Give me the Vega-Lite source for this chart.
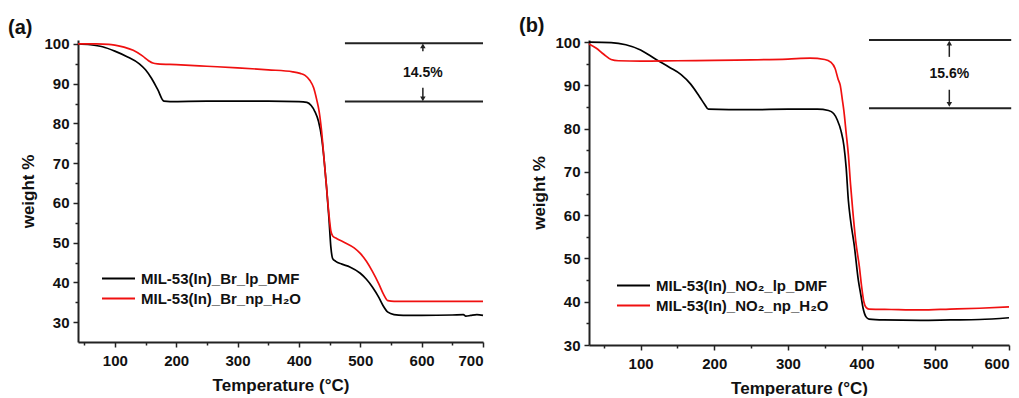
{
  "$schema": "https://vega.github.io/schema/vega-lite/v6.json",
  "background": "white",
  "padding": {"left": 7, "top": 16, "right": 5, "bottom": 0},
  "spacing": 31,
  "config": {
    "view": {"stroke": null},
    "font": "Liberation Sans",
    "axis": {
      "grid": false,
      "domainColor": "#222",
      "domainWidth": 2,
      "tickColor": "#222",
      "tickWidth": 1.5,
      "labelFont": "Liberation Sans",
      "labelFontSize": 15,
      "labelFontWeight": "bold",
      "labelColor": "#111",
      "labelPadding": 4,
      "titleFont": "Liberation Sans",
      "titleFontSize": 17,
      "titleFontWeight": "bold",
      "titleColor": "#111",
      "labelOverlap": false
    },
    "axisX": {"labelPadding": 6},
    "legend": {
      "labelFont": "Liberation Sans",
      "labelFontSize": 15,
      "labelFontWeight": "bold",
      "labelColor": "#111",
      "labelLimit": 0
    }
  },
  "datasets": {
    "a": [
      {"series": "MIL-53(In)_Br_lp_DMF", "T": 40, "w": 100},
      {"series": "MIL-53(In)_Br_lp_DMF", "T": 60, "w": 99.8},
      {"series": "MIL-53(In)_Br_lp_DMF", "T": 80, "w": 99.3},
      {"series": "MIL-53(In)_Br_lp_DMF", "T": 100, "w": 98.2},
      {"series": "MIL-53(In)_Br_lp_DMF", "T": 120, "w": 96.8},
      {"series": "MIL-53(In)_Br_lp_DMF", "T": 140, "w": 95},
      {"series": "MIL-53(In)_Br_lp_DMF", "T": 150, "w": 93.5},
      {"series": "MIL-53(In)_Br_lp_DMF", "T": 160, "w": 91.3},
      {"series": "MIL-53(In)_Br_lp_DMF", "T": 170, "w": 88.5},
      {"series": "MIL-53(In)_Br_lp_DMF", "T": 180, "w": 85.6},
      {"series": "MIL-53(In)_Br_lp_DMF", "T": 190, "w": 85.5},
      {"series": "MIL-53(In)_Br_lp_DMF", "T": 250, "w": 85.6},
      {"series": "MIL-53(In)_Br_lp_DMF", "T": 300, "w": 85.6},
      {"series": "MIL-53(In)_Br_lp_DMF", "T": 350, "w": 85.6},
      {"series": "MIL-53(In)_Br_lp_DMF", "T": 400, "w": 85.5},
      {"series": "MIL-53(In)_Br_lp_DMF", "T": 413, "w": 85.3},
      {"series": "MIL-53(In)_Br_lp_DMF", "T": 420, "w": 84.5},
      {"series": "MIL-53(In)_Br_lp_DMF", "T": 426, "w": 83},
      {"series": "MIL-53(In)_Br_lp_DMF", "T": 432, "w": 80.5},
      {"series": "MIL-53(In)_Br_lp_DMF", "T": 437, "w": 76.5},
      {"series": "MIL-53(In)_Br_lp_DMF", "T": 441, "w": 71},
      {"series": "MIL-53(In)_Br_lp_DMF", "T": 445, "w": 64},
      {"series": "MIL-53(In)_Br_lp_DMF", "T": 449, "w": 56},
      {"series": "MIL-53(In)_Br_lp_DMF", "T": 452, "w": 49},
      {"series": "MIL-53(In)_Br_lp_DMF", "T": 455, "w": 46},
      {"series": "MIL-53(In)_Br_lp_DMF", "T": 460, "w": 45.3},
      {"series": "MIL-53(In)_Br_lp_DMF", "T": 470, "w": 44.6},
      {"series": "MIL-53(In)_Br_lp_DMF", "T": 483, "w": 43.9},
      {"series": "MIL-53(In)_Br_lp_DMF", "T": 500, "w": 42.3},
      {"series": "MIL-53(In)_Br_lp_DMF", "T": 510, "w": 40.8},
      {"series": "MIL-53(In)_Br_lp_DMF", "T": 520, "w": 38.8},
      {"series": "MIL-53(In)_Br_lp_DMF", "T": 530, "w": 36.3},
      {"series": "MIL-53(In)_Br_lp_DMF", "T": 537, "w": 34.2},
      {"series": "MIL-53(In)_Br_lp_DMF", "T": 545, "w": 32.5},
      {"series": "MIL-53(In)_Br_lp_DMF", "T": 555, "w": 31.9},
      {"series": "MIL-53(In)_Br_lp_DMF", "T": 570, "w": 31.7},
      {"series": "MIL-53(In)_Br_lp_DMF", "T": 600, "w": 31.7},
      {"series": "MIL-53(In)_Br_lp_DMF", "T": 650, "w": 31.8},
      {"series": "MIL-53(In)_Br_lp_DMF", "T": 668, "w": 31.9},
      {"series": "MIL-53(In)_Br_lp_DMF", "T": 672, "w": 31.5},
      {"series": "MIL-53(In)_Br_lp_DMF", "T": 680, "w": 31.7},
      {"series": "MIL-53(In)_Br_lp_DMF", "T": 690, "w": 31.9},
      {"series": "MIL-53(In)_Br_lp_DMF", "T": 700, "w": 31.7},
      {"series": "MIL-53(In)_Br_np_H₂O", "T": 40, "w": 100},
      {"series": "MIL-53(In)_Br_np_H₂O", "T": 70, "w": 100},
      {"series": "MIL-53(In)_Br_np_H₂O", "T": 90, "w": 99.9},
      {"series": "MIL-53(In)_Br_np_H₂O", "T": 100, "w": 99.7},
      {"series": "MIL-53(In)_Br_np_H₂O", "T": 115, "w": 99.2},
      {"series": "MIL-53(In)_Br_np_H₂O", "T": 130, "w": 98.4},
      {"series": "MIL-53(In)_Br_np_H₂O", "T": 145, "w": 97},
      {"series": "MIL-53(In)_Br_np_H₂O", "T": 155, "w": 95.8},
      {"series": "MIL-53(In)_Br_np_H₂O", "T": 162, "w": 95.2},
      {"series": "MIL-53(In)_Br_np_H₂O", "T": 170, "w": 95},
      {"series": "MIL-53(In)_Br_np_H₂O", "T": 200, "w": 94.8},
      {"series": "MIL-53(In)_Br_np_H₂O", "T": 250, "w": 94.4},
      {"series": "MIL-53(In)_Br_np_H₂O", "T": 300, "w": 94},
      {"series": "MIL-53(In)_Br_np_H₂O", "T": 350, "w": 93.5},
      {"series": "MIL-53(In)_Br_np_H₂O", "T": 390, "w": 93},
      {"series": "MIL-53(In)_Br_np_H₂O", "T": 402, "w": 92.6},
      {"series": "MIL-53(In)_Br_np_H₂O", "T": 410, "w": 92.1},
      {"series": "MIL-53(In)_Br_np_H₂O", "T": 418, "w": 90.8},
      {"series": "MIL-53(In)_Br_np_H₂O", "T": 424, "w": 89},
      {"series": "MIL-53(In)_Br_np_H₂O", "T": 429, "w": 86},
      {"series": "MIL-53(In)_Br_np_H₂O", "T": 433, "w": 83},
      {"series": "MIL-53(In)_Br_np_H₂O", "T": 437, "w": 78},
      {"series": "MIL-53(In)_Br_np_H₂O", "T": 441, "w": 71},
      {"series": "MIL-53(In)_Br_np_H₂O", "T": 445, "w": 64},
      {"series": "MIL-53(In)_Br_np_H₂O", "T": 449, "w": 57},
      {"series": "MIL-53(In)_Br_np_H₂O", "T": 452, "w": 53},
      {"series": "MIL-53(In)_Br_np_H₂O", "T": 455, "w": 51.7},
      {"series": "MIL-53(In)_Br_np_H₂O", "T": 462, "w": 51},
      {"series": "MIL-53(In)_Br_np_H₂O", "T": 475, "w": 50},
      {"series": "MIL-53(In)_Br_np_H₂O", "T": 490, "w": 48.7},
      {"series": "MIL-53(In)_Br_np_H₂O", "T": 500, "w": 47.3},
      {"series": "MIL-53(In)_Br_np_H₂O", "T": 510, "w": 45.3},
      {"series": "MIL-53(In)_Br_np_H₂O", "T": 520, "w": 42.7},
      {"series": "MIL-53(In)_Br_np_H₂O", "T": 530, "w": 39.7},
      {"series": "MIL-53(In)_Br_np_H₂O", "T": 538, "w": 37},
      {"series": "MIL-53(In)_Br_np_H₂O", "T": 545, "w": 35.4},
      {"series": "MIL-53(In)_Br_np_H₂O", "T": 555, "w": 35.2},
      {"series": "MIL-53(In)_Br_np_H₂O", "T": 700, "w": 35.2}
    ],
    "b": [
      {"series": "MIL-53(In)_NO₂_lp_DMF", "T": 30, "w": 100},
      {"series": "MIL-53(In)_NO₂_lp_DMF", "T": 60, "w": 99.9},
      {"series": "MIL-53(In)_NO₂_lp_DMF", "T": 80, "w": 99.4},
      {"series": "MIL-53(In)_NO₂_lp_DMF", "T": 100, "w": 98.2},
      {"series": "MIL-53(In)_NO₂_lp_DMF", "T": 120, "w": 96.1},
      {"series": "MIL-53(In)_NO₂_lp_DMF", "T": 140, "w": 94.1},
      {"series": "MIL-53(In)_NO₂_lp_DMF", "T": 155, "w": 92.5},
      {"series": "MIL-53(In)_NO₂_lp_DMF", "T": 168, "w": 90.3},
      {"series": "MIL-53(In)_NO₂_lp_DMF", "T": 180, "w": 87.4},
      {"series": "MIL-53(In)_NO₂_lp_DMF", "T": 187, "w": 85.6},
      {"series": "MIL-53(In)_NO₂_lp_DMF", "T": 192, "w": 84.5},
      {"series": "MIL-53(In)_NO₂_lp_DMF", "T": 220, "w": 84.4},
      {"series": "MIL-53(In)_NO₂_lp_DMF", "T": 250, "w": 84.4},
      {"series": "MIL-53(In)_NO₂_lp_DMF", "T": 300, "w": 84.5},
      {"series": "MIL-53(In)_NO₂_lp_DMF", "T": 340, "w": 84.5},
      {"series": "MIL-53(In)_NO₂_lp_DMF", "T": 355, "w": 84.2},
      {"series": "MIL-53(In)_NO₂_lp_DMF", "T": 362, "w": 83.5},
      {"series": "MIL-53(In)_NO₂_lp_DMF", "T": 367, "w": 82},
      {"series": "MIL-53(In)_NO₂_lp_DMF", "T": 372, "w": 79.5},
      {"series": "MIL-53(In)_NO₂_lp_DMF", "T": 376, "w": 76},
      {"series": "MIL-53(In)_NO₂_lp_DMF", "T": 379, "w": 71},
      {"series": "MIL-53(In)_NO₂_lp_DMF", "T": 382, "w": 63.4},
      {"series": "MIL-53(In)_NO₂_lp_DMF", "T": 385, "w": 58.8},
      {"series": "MIL-53(In)_NO₂_lp_DMF", "T": 390, "w": 53},
      {"series": "MIL-53(In)_NO₂_lp_DMF", "T": 395.5, "w": 45},
      {"series": "MIL-53(In)_NO₂_lp_DMF", "T": 399, "w": 41.5},
      {"series": "MIL-53(In)_NO₂_lp_DMF", "T": 402, "w": 38.5},
      {"series": "MIL-53(In)_NO₂_lp_DMF", "T": 406, "w": 36.5},
      {"series": "MIL-53(In)_NO₂_lp_DMF", "T": 410, "w": 36},
      {"series": "MIL-53(In)_NO₂_lp_DMF", "T": 430, "w": 35.8},
      {"series": "MIL-53(In)_NO₂_lp_DMF", "T": 480, "w": 35.7},
      {"series": "MIL-53(In)_NO₂_lp_DMF", "T": 520, "w": 35.8},
      {"series": "MIL-53(In)_NO₂_lp_DMF", "T": 560, "w": 35.9},
      {"series": "MIL-53(In)_NO₂_lp_DMF", "T": 600, "w": 36.3},
      {"series": "MIL-53(In)_NO₂_np_H₂O", "T": 30, "w": 99.6},
      {"series": "MIL-53(In)_NO₂_np_H₂O", "T": 40, "w": 98.6},
      {"series": "MIL-53(In)_NO₂_np_H₂O", "T": 50, "w": 97.2},
      {"series": "MIL-53(In)_NO₂_np_H₂O", "T": 60, "w": 96},
      {"series": "MIL-53(In)_NO₂_np_H₂O", "T": 70, "w": 95.7},
      {"series": "MIL-53(In)_NO₂_np_H₂O", "T": 100, "w": 95.6},
      {"series": "MIL-53(In)_NO₂_np_H₂O", "T": 150, "w": 95.7},
      {"series": "MIL-53(In)_NO₂_np_H₂O", "T": 200, "w": 95.8},
      {"series": "MIL-53(In)_NO₂_np_H₂O", "T": 250, "w": 95.9},
      {"series": "MIL-53(In)_NO₂_np_H₂O", "T": 300, "w": 96.1},
      {"series": "MIL-53(In)_NO₂_np_H₂O", "T": 330, "w": 96.3},
      {"series": "MIL-53(In)_NO₂_np_H₂O", "T": 350, "w": 96},
      {"series": "MIL-53(In)_NO₂_np_H₂O", "T": 358, "w": 95.4},
      {"series": "MIL-53(In)_NO₂_np_H₂O", "T": 364, "w": 93.9},
      {"series": "MIL-53(In)_NO₂_np_H₂O", "T": 368, "w": 91.5},
      {"series": "MIL-53(In)_NO₂_np_H₂O", "T": 371, "w": 90},
      {"series": "MIL-53(In)_NO₂_np_H₂O", "T": 374, "w": 86.5},
      {"series": "MIL-53(In)_NO₂_np_H₂O", "T": 376, "w": 84},
      {"series": "MIL-53(In)_NO₂_np_H₂O", "T": 379, "w": 79},
      {"series": "MIL-53(In)_NO₂_np_H₂O", "T": 382, "w": 74},
      {"series": "MIL-53(In)_NO₂_np_H₂O", "T": 385, "w": 67},
      {"series": "MIL-53(In)_NO₂_np_H₂O", "T": 388, "w": 61},
      {"series": "MIL-53(In)_NO₂_np_H₂O", "T": 392, "w": 54},
      {"series": "MIL-53(In)_NO₂_np_H₂O", "T": 397, "w": 48},
      {"series": "MIL-53(In)_NO₂_np_H₂O", "T": 400, "w": 43.5},
      {"series": "MIL-53(In)_NO₂_np_H₂O", "T": 403, "w": 40},
      {"series": "MIL-53(In)_NO₂_np_H₂O", "T": 406, "w": 38.7},
      {"series": "MIL-53(In)_NO₂_np_H₂O", "T": 410, "w": 38.3},
      {"series": "MIL-53(In)_NO₂_np_H₂O", "T": 440, "w": 38.2},
      {"series": "MIL-53(In)_NO₂_np_H₂O", "T": 480, "w": 38.1},
      {"series": "MIL-53(In)_NO₂_np_H₂O", "T": 520, "w": 38.3},
      {"series": "MIL-53(In)_NO₂_np_H₂O", "T": 560, "w": 38.5},
      {"series": "MIL-53(In)_NO₂_np_H₂O", "T": 600, "w": 38.8}
    ]
  },
  "hconcat": [
    {
      "width": 405,
      "height": 302,
      "title": {"text": "(a)", "anchor": "start", "fontSize": 20, "fontWeight": "bold", "font": "Liberation Sans", "color": "#111", "dx": -12, "offset": -1},
      "encoding": {
        "x": {"field": "T", "type": "quantitative", "scale": {"domain": [40, 700], "nice": false, "zero": false},
          "axis": {"title": "Temperature (°C)", "titlePadding": 9, "values": [50,100,150,200,250,300,350,400,450,500,550,600,650,700],
            "labelExpr": "datum.value % 100 === 0 ? datum.label : ''",
            "tickSize": {"condition": {"test": "datum.value % 100 === 0", "value": 5}, "value": 3}}},
        "y": {"field": "w", "type": "quantitative", "scale": {"domain": [25, 101], "nice": false, "zero": false},
          "axis": {"title": "weight %", "titlePadding": 6, "values": [30,35,40,45,50,55,60,65,70,75,80,85,90,95,100],
            "labelExpr": "datum.value % 10 === 0 ? datum.label : ''",
            "tickSize": {"condition": {"test": "datum.value % 10 === 0", "value": 5}, "value": 3}}}
      },
      "layer": [
        {
          "data": {"name": "a"},
          "mark": {"type": "line", "strokeWidth": 1.7, "interpolate": "monotone"},
          "encoding": {
            "color": {"field": "series", "type": "nominal",
              "scale": {"domain": ["MIL-53(In)_Br_lp_DMF", "MIL-53(In)_Br_np_H₂O"], "range": ["#000000", "#f01010"]},
              "legend": {"orient": "none", "legendX": 33, "legendY": 231, "title": null, "symbolType": "M-3,0H3", "symbolSize": 121, "symbolStrokeWidth": 2, "rowPadding": 4, "labelOffset": 15}}
          }
        },
        {
          "data": {"values": [{"T": 475, "T2": 700, "w": 100.2}, {"T": 475, "T2": 700, "w": 85.5}]},
          "mark": {"type": "rule", "strokeWidth": 2, "color": "#222"},
          "encoding": {"x2": {"field": "T2"}}
        },
        {
          "data": {"values": [{"T": 602, "w": 98.2, "w2": 99.5}, {"T": 602, "w": 89, "w2": 86.2}]},
          "mark": {"type": "rule", "strokeWidth": 1.5, "color": "#222"},
          "encoding": {"y2": {"field": "w2"}}
        },
        {
          "data": {"values": [{"T": 602, "w": 99.5, "dir": "up"}, {"T": 602, "w": 86.2, "dir": "down"}]},
          "mark": {"type": "point", "filled": true, "size": 30, "color": "#222", "opacity": 1},
          "encoding": {"shape": {"field": "dir", "type": "nominal", "scale": {"domain": ["up", "down"], "range": ["triangle-up", "triangle-down"]}, "legend": null}}
        },
        {
          "data": {"values": [{"T": 602, "w": 92.7, "label": "14.5%"}]},
          "mark": {"type": "text", "fontSize": 14, "fontWeight": "bold", "font": "Liberation Sans", "color": "#111"},
          "encoding": {"text": {"field": "label"}}
        }
      ],
      "resolve": {"scale": {"color": "independent", "shape": "independent"}}
    },
    {
      "width": 420,
      "height": 305,
      "title": {"text": "(b)", "anchor": "start", "fontSize": 20, "fontWeight": "bold", "font": "Liberation Sans", "color": "#111", "dx": -12, "offset": -1},
      "encoding": {
        "x": {"field": "T", "type": "quantitative", "scale": {"domain": [30, 600], "nice": false, "zero": false},
          "axis": {"title": "Temperature (°C)", "titlePadding": 9, "values": [50,100,150,200,250,300,350,400,450,500,550,600],
            "labelExpr": "datum.value % 100 === 0 ? datum.label : ''",
            "tickSize": {"condition": {"test": "datum.value % 100 === 0", "value": 5}, "value": 3}}},
        "y": {"field": "w", "type": "quantitative", "scale": {"domain": [30, 100.5], "nice": false, "zero": false},
          "axis": {"title": "weight %", "titlePadding": 6, "values": [30,35,40,45,50,55,60,65,70,75,80,85,90,95,100],
            "labelExpr": "datum.value % 10 === 0 ? datum.label : ''",
            "tickSize": {"condition": {"test": "datum.value % 10 === 0", "value": 5}, "value": 3}}}
      },
      "layer": [
        {
          "data": {"name": "b"},
          "mark": {"type": "line", "strokeWidth": 1.7, "interpolate": "monotone"},
          "encoding": {
            "color": {"field": "series", "type": "nominal",
              "scale": {"domain": ["MIL-53(In)_NO₂_lp_DMF", "MIL-53(In)_NO₂_np_H₂O"], "range": ["#000000", "#f01010"]},
              "legend": {"orient": "none", "legendX": 37, "legendY": 238, "title": null, "symbolType": "M-3,0H3", "symbolSize": 121, "symbolStrokeWidth": 2, "rowPadding": 4, "labelOffset": 15}}
          }
        },
        {
          "data": {"values": [{"T": 410, "T2": 603, "w": 100.5}, {"T": 410, "T2": 603, "w": 84.7}]},
          "mark": {"type": "rule", "strokeWidth": 2, "color": "#222"},
          "encoding": {"x2": {"field": "T2"}}
        },
        {
          "data": {"values": [{"T": 519, "w": 96.6, "w2": 99.8}, {"T": 519, "w": 89, "w2": 85.6}]},
          "mark": {"type": "rule", "strokeWidth": 1.5, "color": "#222"},
          "encoding": {"y2": {"field": "w2"}}
        },
        {
          "data": {"values": [{"T": 519, "w": 99.8, "dir": "up"}, {"T": 519, "w": 85.6, "dir": "down"}]},
          "mark": {"type": "point", "filled": true, "size": 30, "color": "#222", "opacity": 1},
          "encoding": {"shape": {"field": "dir", "type": "nominal", "scale": {"domain": ["up", "down"], "range": ["triangle-up", "triangle-down"]}, "legend": null}}
        },
        {
          "data": {"values": [{"T": 519, "w": 92.7, "label": "15.6%"}]},
          "mark": {"type": "text", "fontSize": 14, "fontWeight": "bold", "font": "Liberation Sans", "color": "#111"},
          "encoding": {"text": {"field": "label"}}
        }
      ],
      "resolve": {"scale": {"color": "independent", "shape": "independent"}}
    }
  ],
  "resolve": {"scale": {"color": "independent", "shape": "independent"}}
}
